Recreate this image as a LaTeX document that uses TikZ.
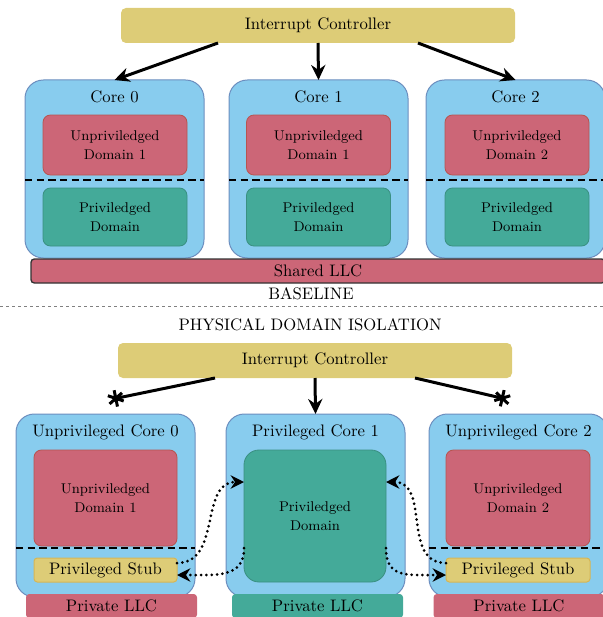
\documentclass[tikz,border=0pt]{standalone}
\usepackage{tikz}
\usepackage{xcolor}
\usetikzlibrary{arrows.meta}

\definecolor{sandY}{HTML}{DDCC77}
\definecolor{roseR}{HTML}{CC6677}
\definecolor{tealG}{HTML}{44AA99}
\definecolor{cyanB}{HTML}{88CCEE}
\definecolor{coreline}{HTML}{6C8EBF}
\definecolor{roseline}{HTML}{B85450}
\definecolor{sandline}{HTML}{D6B656}

\tikzset{
  sz/.style 2 args={minimum width=#1*0.6pt, minimum height=#2*0.6pt},
  box/.style={inner sep=0pt, outer sep=0pt, align=center},
  ctrl/.style={box, fill=sandY, rounded corners=3pt},
  core/.style={box, draw=coreline, fill=cyanB, line width=0.6pt, rounded corners=11pt},
  udom/.style={box, draw=roseline, fill=roseR, line width=0.5pt, rounded corners=4.5pt,
    font=\fontsize{8.5}{11.5}\selectfont},
  pdom/.style={box, draw=tealG!85!black, fill=tealG, line width=0.5pt, rounded corners=4.5pt,
    font=\fontsize{8.5}{11.5}\selectfont},
  stub/.style={box, draw=sandline, fill=sandY, line width=0.6pt, rounded corners=2pt},
  llc/.style={box, fill=roseR, rounded corners=2pt},
  divider/.style={line width=1.5pt, dash pattern=on 4.4pt off 2.6pt},
  arr/.style={line width=1.8pt, -{Stealth[length=9pt,width=8.5pt]}},
  blocked/.style={line width=1.8pt, -{Rays[n=6,length=10pt,width=10pt,line width=1.8pt]}},
  rpc/.style={line width=1.8pt, line cap=round, dash pattern=on 0pt off 3.2pt,
    -{Stealth[length=8pt,width=8pt]}},
}

\begin{document}
\begin{tikzpicture}[x=0.6pt,y=-0.6pt]
\useasboundingbox (0,0) rectangle (603,617);

% Baseline: shared cores
\node[ctrl, sz={394}{35}] (icA) at (318,25.5) {Interrupt Controller};

\node[core, sz={179}{178}] (c0) at (114.5,169) {};
\node[core, sz={179}{178}] (c1) at (318.5,169) {};
\node[core, sz={179}{178}] (c2) at (515.5,169) {};

\node (t0) at (114.5,97) {Core 0};
\node (t1) at (318.5,97) {Core 1};
\node (t2) at (515.5,97) {Core 2};

\node[udom, sz={144}{60}] (u0) at (115,145) {Unpriviledged\\Domain 1};
\node[udom, sz={144}{60}] (u1) at (318.5,145) {Unpriviledged\\Domain 1};
\node[udom, sz={144}{60}] (u2) at (517,145) {Unpriviledged\\Domain 2};

\draw[divider] (c0.west |- 0,180) -- (c0.east |- 0,180);
\draw[divider] (c1.west |- 0,180) -- (c1.east |- 0,180);
\draw[divider] (c2.west |- 0,180) -- (c2.east |- 0,180);

\node[pdom, sz={144}{58}] (p0) at (115,217) {Priviledged\\Domain};
\node[pdom, sz={144}{58}] (p1) at (318.5,217) {Priviledged\\Domain};
\node[pdom, sz={144}{58}] (p2) at (517,217) {Priviledged\\Domain};

\node[llc, draw=black!80, line width=0.8pt, sz={574}{24}] (shared) at (318,271) {Shared LLC};

\draw[arr] ([xshift=-60pt]icA.south) -- (c0.north);
\draw[arr] (icA.south) -- (c1.north);
\draw[arr] ([xshift=60pt]icA.south) -- (c2.north);

\node (base) at (311,294) {BASELINE};

% separator
\draw[gray, line width=0.6pt, dash pattern=on 2pt off 1.6pt] (0,306) -- (603,306);

% Physical domain isolation
\node (iso) at (310,325) {PHYSICAL DOMAIN ISOLATION};

\node[ctrl, sz={394}{35}] (icB) at (315,360.5) {Interrupt Controller};

\node[core, sz={179}{183}] (b0) at (105.5,505.5) {};
\node[core, sz={179}{183}] (b1) at (315.5,505.5) {};
\node[core, sz={179}{183}] (b2) at (518.5,505.5) {};

\node (s0) at (105.5,432) {Unprivileged Core 0};
\node (s1) at (315.5,432) {Privileged Core 1};
\node (s2) at (518.5,432) {Unprivileged Core 2};

\node[udom, sz={143}{96}] (ud0) at (105.5,498) {Unpriviledged\\Domain 1};
\node[udom, sz={144}{96}] (ud2) at (518,498) {Unpriviledged\\Domain 2};
\node[pdom, sz={142}{132}, rounded corners=9pt] (pd) at (315,516) {Priviledged\\Domain};

\draw[divider] (b0.west |- 0,548) -- (b0.east |- 0,548);
\draw[divider] (b2.west |- 0,548) -- (b2.east |- 0,548);

\node[stub, sz={143}{24}] (stub0) at (105.5,570) {Privileged Stub};
\node[stub, sz={144}{24}] (stub2) at (518,570) {Privileged Stub};

\node[llc, sz={171}{24}] (llc0) at (111.5,606) {Private LLC};
\node[llc, fill=tealG, sz={171}{24}] (llc1) at (317.5,606) {Private LLC};
\node[llc, sz={171}{24}] (llc2) at (519,606) {Private LLC};

% interrupts only reach core 1
\coordinate (x0) at (108,400);
\coordinate (x2) at (510,400);
\draw[blocked] ([xshift=-60pt]icB.south) -- (x0);
\draw[arr] (icB.south) -- (b1.north);
\draw[blocked] ([xshift=60pt]icB.south) -- (x2);

% stub calls
\draw[rpc] ([yshift=4.2pt]stub0.east) .. controls +(45,0) and +(-45,0) .. ([yshift=20.4pt]pd.west);
\draw[rpc] ([yshift=-19.2pt]pd.west) .. controls +(0,30) and +(40,0) .. ([yshift=-3pt]stub0.east);
\draw[rpc] ([yshift=4.2pt]stub2.west) .. controls +(-45,0) and +(45,0) .. ([yshift=20.4pt]pd.east);
\draw[rpc] ([yshift=-19.2pt]pd.east) .. controls +(0,30) and +(-40,0) .. ([yshift=-3pt]stub2.west);
\end{tikzpicture}
\end{document}
